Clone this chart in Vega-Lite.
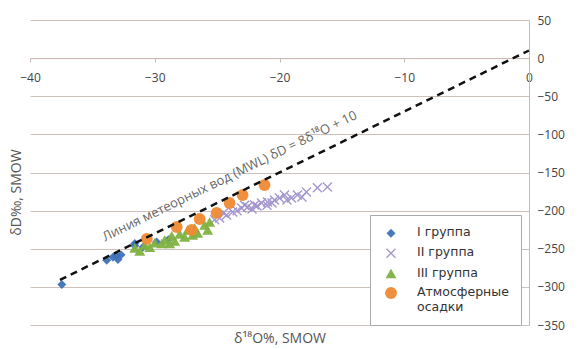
{
  "$schema": "https://vega.github.io/schema/vega-lite/v6.json",
  "width": 499,
  "height": 305,
  "autosize": {"type": "none"},
  "padding": {"left": 30, "top": 20, "right": 50, "bottom": 24},
  "config": {
    "view": {"stroke": null},
    "font": "Open Sans",
    "axis": {"labelFont": "Open Sans", "titleFont": "Open Sans", "labelColor": "#444", "titleColor": "#555", "labelFontSize": 12, "titleFontSize": 14, "titleFontWeight": "normal"}
  },
  "datasets": {
    "pts": [
      {"x": -37.45, "y": -297, "g": "I группа"},
      {"x": -33.85, "y": -265, "g": "I группа"},
      {"x": -33.35, "y": -261, "g": "I группа"},
      {"x": -32.95, "y": -264, "g": "I группа"},
      {"x": -32.7, "y": -258, "g": "I группа"},
      {"x": -33.1, "y": -259, "g": "I группа"},
      {"x": -31.6, "y": -243, "g": "I группа"},
      {"x": -31.6, "y": -246, "g": "I группа"},
      {"x": -30.95, "y": -248, "g": "I группа"},
      {"x": -29.85, "y": -241, "g": "I группа"},
      {"x": -28.9, "y": -238, "g": "I группа"},
      {"x": -16.16, "y": -169, "g": "II группа"},
      {"x": -16.96, "y": -170, "g": "II группа"},
      {"x": -17.84, "y": -175.6, "g": "II группа"},
      {"x": -18.56, "y": -179.5, "g": "II группа"},
      {"x": -19.04, "y": -183.4, "g": "II группа"},
      {"x": -19.6, "y": -179.5, "g": "II группа"},
      {"x": -20.0, "y": -183.4, "g": "II группа"},
      {"x": -20.4, "y": -186, "g": "II группа"},
      {"x": -20.96, "y": -188.7, "g": "II группа"},
      {"x": -21.44, "y": -190, "g": "II группа"},
      {"x": -22.0, "y": -192.6, "g": "II группа"},
      {"x": -22.56, "y": -195.2, "g": "II группа"},
      {"x": -23.04, "y": -196.6, "g": "II группа"},
      {"x": -23.76, "y": -201.8, "g": "II группа"},
      {"x": -24.24, "y": -205.7, "g": "II группа"},
      {"x": -24.8, "y": -209.7, "g": "II группа"},
      {"x": -22.2, "y": -198, "g": "II группа"},
      {"x": -21.8, "y": -194, "g": "II группа"},
      {"x": -21.0, "y": -193, "g": "II группа"},
      {"x": -20.6, "y": -190, "g": "II группа"},
      {"x": -23.4, "y": -200, "g": "II группа"},
      {"x": -22.8, "y": -193, "g": "II группа"},
      {"x": -19.4, "y": -186, "g": "II группа"},
      {"x": -18.2, "y": -182, "g": "II группа"},
      {"x": -24.5, "y": -203, "g": "II группа"},
      {"x": -25.2, "y": -212, "g": "II группа"},
      {"x": -31.6, "y": -249, "g": "III группа"},
      {"x": -30.8, "y": -245, "g": "III группа"},
      {"x": -30.0, "y": -242, "g": "III группа"},
      {"x": -29.2, "y": -238.5, "g": "III группа"},
      {"x": -28.64, "y": -233, "g": "III группа"},
      {"x": -28.0, "y": -230.6, "g": "III группа"},
      {"x": -27.36, "y": -225.4, "g": "III группа"},
      {"x": -26.8, "y": -222.8, "g": "III группа"},
      {"x": -26.0, "y": -219, "g": "III группа"},
      {"x": -25.6, "y": -215, "g": "III группа"},
      {"x": -30.4, "y": -248, "g": "III группа"},
      {"x": -29.44, "y": -243, "g": "III группа"},
      {"x": -28.4, "y": -240, "g": "III группа"},
      {"x": -27.6, "y": -234.7, "g": "III группа"},
      {"x": -26.56, "y": -229.5, "g": "III группа"},
      {"x": -25.76, "y": -225.4, "g": "III группа"},
      {"x": -31.2, "y": -253, "g": "III группа"},
      {"x": -28.8, "y": -243, "g": "III группа"},
      {"x": -26.96, "y": -232, "g": "III группа"},
      {"x": -30.64, "y": -237, "g": "Атмосферные осадки"},
      {"x": -28.24, "y": -221.5, "g": "Атмосферные осадки"},
      {"x": -27.04, "y": -225.4, "g": "Атмосферные осадки"},
      {"x": -26.4, "y": -211, "g": "Атмосферные осадки"},
      {"x": -25.04, "y": -203, "g": "Атмосферные осадки"},
      {"x": -24.0, "y": -190, "g": "Атмосферные осадки"},
      {"x": -22.96, "y": -179.5, "g": "Атмосферные осадки"},
      {"x": -21.2, "y": -166.4, "g": "Атмосферные осадки"}
    ],
    "mwl": [
      {"x": -37.6, "y": -290.8},
      {"x": 0, "y": 10}
    ],
    "note": [
      {"x": -24, "y": -155, "t": "Линия метеорных вод (MWL) δD = 8δ¹⁸O + 10"}
    ]
  },
  "encoding": {
    "x": {
      "field": "x", "type": "quantitative",
      "scale": {"domain": [-40, 0], "nice": false, "zero": false},
      "axis": {"orient": "bottom", "offset": -266.9, "values": [-40, -30, -20, -10, 0], "grid": false,
        "domainColor": "#c8bab4", "tickColor": "#c8bab4", "tickSize": 4, "labelPadding": 10, "labelFlush": false,
        "title": "δ¹⁸O%, SMOW", "titleY": 280, "titleBaseline": "middle"}
    },
    "y": {
      "field": "y", "type": "quantitative",
      "scale": {"domain": [-350, 50], "nice": false, "zero": false},
      "axis": {"orient": "right", "values": [-350, -300, -250, -200, -150, -100, -50, 0, 50], "grid": true,
        "gridColor": "#cdbfb9", "domainColor": "#c8bab4", "ticks": false, "labelPadding": 8, "labelFlush": false,
        "title": "δD‰, SMOW", "titleX": -513, "titleY": 172, "titleAngle": 270, "titleAlign": "center", "titleBaseline": "middle"}
    }
  },
  "layer": [
    {
      "data": {"name": "pts"},
      "mark": {"type": "point", "filled": true, "opacity": 0.95},
      "encoding": {
        "color": {
          "field": "g", "type": "nominal",
          "scale": {"domain": ["I группа", "II группа", "III группа", "Атмосферные осадки"], "range": ["#3d72b8", "#a092cc", "#7fb241", "#ef8a34"]},
          "legend": {"orient": "none", "legendX": 340, "legendY": 195, "title": null, "padding": 12, "fillColor": "white", "strokeColor": "#aaaaaa",
            "symbolOffset": 2, "labelOffset": 19, "rowPadding": 7, "symbolSize": 60, "labelFontSize": 12.5, "labelColor": "#333", "labelFont": "DejaVu Sans",
            "labelBaseline": "top",
            "encoding": {"labels": {"dy": {"value": -7}}},
            "labelExpr": "datum.label == 'Атмосферные осадки' ? ['Атмосферные', 'осадки'] : datum.label"}
        },
        "shape": {
          "field": "g", "type": "nominal",
          "scale": {"domain": ["I группа", "II группа", "III группа", "Атмосферные осадки"], "range": ["diamond", "M-1,-0.8L-0.8,-1L0,-0.2L0.8,-1L1,-0.8L0.2,0L1,0.8L0.8,1L0,0.2L-0.8,1L-1,0.8L-0.2,0Z", "triangle-up", "circle"]},
          "legend": {"orient": "none", "legendX": 340, "legendY": 195, "title": null, "padding": 12, "fillColor": "white", "strokeColor": "#aaaaaa",
            "symbolOffset": 2, "labelOffset": 19, "rowPadding": 7, "symbolSize": 60, "labelFontSize": 12.5, "labelColor": "#333", "labelFont": "DejaVu Sans",
            "labelBaseline": "top",
            "encoding": {"labels": {"dy": {"value": -7}}},
            "labelExpr": "datum.label == 'Атмосферные осадки' ? ['Атмосферные', 'осадки'] : datum.label"}
        },
        "size": {
          "field": "g", "type": "ordinal",
          "scale": {"domain": ["I группа", "II группа", "III группа", "Атмосферные осадки"], "range": [80, 140, 90, 105]},
          "legend": null
        }
      }
    },
    {
      "data": {"name": "mwl"},
      "mark": {"type": "line", "color": "#111111", "strokeWidth": 2.5, "strokeDash": [7, 5]},
      "encoding": {}
    },
    {
      "data": {"name": "note"},
      "mark": {"type": "text", "angle": -26, "fontSize": 13, "color": "#666666", "font": "Open Sans", "align": "center", "baseline": "middle"},
      "encoding": {"text": {"field": "t", "type": "nominal"}}
    }
  ]
}
